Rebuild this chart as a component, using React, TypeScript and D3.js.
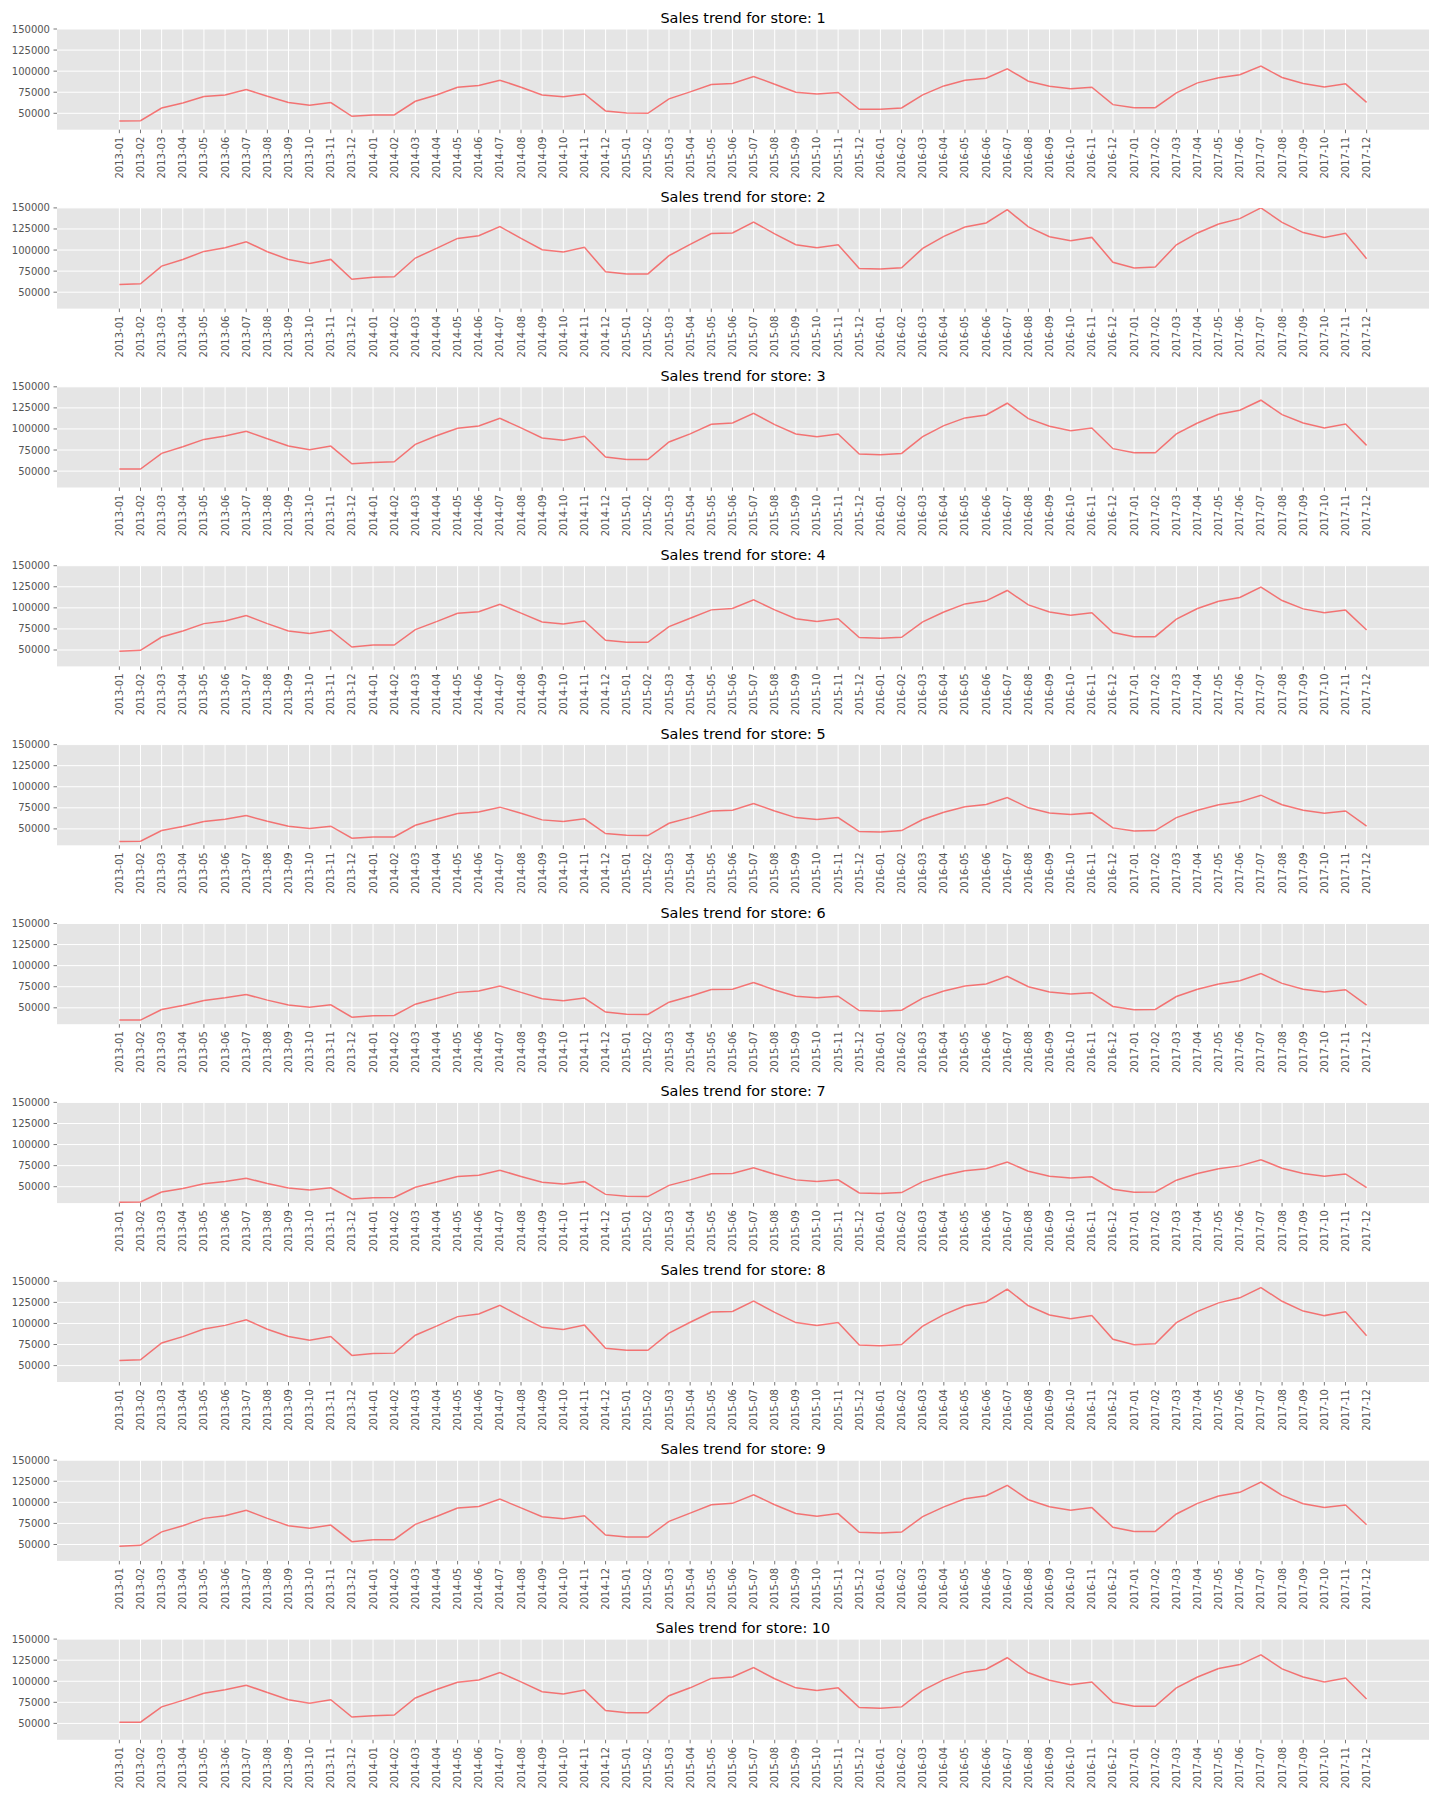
import React from "react";
import * as d3 from "d3";

const months = [
  "2013-01","2013-02","2013-03","2013-04","2013-05","2013-06","2013-07","2013-08","2013-09","2013-10","2013-11","2013-12",
  "2014-01","2014-02","2014-03","2014-04","2014-05","2014-06","2014-07","2014-08","2014-09","2014-10","2014-11","2014-12",
  "2015-01","2015-02","2015-03","2015-04","2015-05","2015-06","2015-07","2015-08","2015-09","2015-10","2015-11","2015-12",
  "2016-01","2016-02","2016-03","2016-04","2016-05","2016-06","2016-07","2016-08","2016-09","2016-10","2016-11","2016-12",
  "2017-01","2017-02","2017-03","2017-04","2017-05","2017-06","2017-07","2017-08","2017-09","2017-10","2017-11","2017-12",
];

const yTicks = [50000, 75000, 100000, 125000, 150000];
const storeIds = [1, 2, 3, 4, 5, 6, 7, 8, 9, 10];

const store1 = [40900,41300,56300,62250,69900,71800,78200,70300,62750,59600,62750,46400,48000,48000,64300,71800,80900,82900,89300,80900,71800,69500,73000,52800,50400,50000,67100,75400,84100,85300,93700,
  84500,75000,73000,74800,54700,54700,56300,71800,82500,89300,91700,102800,88100,82100,79000,80900,60300,56700,56700,74200,86100,92100,95700,105900,92500,85300,81300,84900,63000];
const store2 = [59100,59900,80900,88800,98400,102800,109900,98000,88900,84200,88900,65400,67800,68200,90500,102000,113800,117000,127800,113800,100400,97600,103200,74200,71700,71700,93300,106700,119500,120300,133300,
  119100,106300,102800,106300,78200,77400,79000,102000,116200,127400,132100,148000,127400,115800,111100,115000,85500,78600,79800,106300,120300,130900,137300,150000,132900,120700,115000,119900,89800];
const store3 = [52400,52400,71000,78900,87600,91600,97200,88400,79700,75400,79700,58700,60300,61100,81700,92000,100800,103600,112700,101200,89300,86600,91300,66600,63800,63800,84500,94100,105500,107100,118600,
  105100,94100,90900,94100,70300,69500,71000,90900,104000,113100,116600,130500,112300,103200,98000,101200,76600,71800,71800,94100,107100,117400,122200,134100,117000,107100,101200,105900,80500];
const store4 = [48400,49600,65400,72600,81300,84500,90900,81300,72600,69500,73400,53600,55900,55900,74200,83700,93600,95500,104300,93800,83300,80900,84500,61500,59100,59100,77800,87600,97600,99200,109500,
  97600,87000,83900,87000,64700,63900,65000,83300,95100,104700,108300,120600,103500,95100,91100,94200,70800,65800,65800,86600,99200,107900,112300,124600,108700,98800,94200,97300,73800];
const store5 = [35000,35400,48000,52800,58700,61500,65800,59100,53200,50400,53200,38900,40500,40500,54300,61500,68200,70100,75800,68600,60700,58700,61900,44500,42500,42100,56700,63400,71300,72100,80100,
  71300,63400,61100,63400,46800,46400,48000,61100,69800,76200,79000,87300,75000,69000,67000,69000,51200,47600,48000,63400,72100,78600,82100,90000,78600,72100,68600,71300,53200];
const store6 = [35400,35400,48000,52800,58700,61900,65800,59100,53200,50800,53600,38900,40500,40900,54300,61100,68300,69900,75800,68300,60700,58300,61500,44900,42500,42100,56700,63800,71800,72100,80100,
  71100,63800,61900,63800,46800,46000,47200,61500,69900,75800,78200,87300,75000,68700,66300,67900,51600,47600,48000,63400,72100,78200,82100,90500,79000,72100,68700,71500,53200];
const store7 = [31600,31800,43700,48000,53400,56300,60100,53800,48400,46200,48800,35400,36900,37200,49400,55600,62200,63600,69500,62200,55200,53100,56000,40900,38700,38300,51600,58100,65300,65600,72400,
  64700,58100,56300,58100,42600,41900,43000,56000,63600,69000,71200,79200,68300,62500,60300,61800,47000,43300,43700,57700,65600,71200,74700,82000,71900,65600,62500,65100,49000];
const store8 = [56100,56900,76900,84400,93500,97700,104400,93100,84500,80000,84500,62100,64400,64800,86000,96900,108100,111200,121400,108100,95400,92700,98000,70500,68100,68100,88600,101400,113500,114300,126600,
  113100,101000,97700,101000,74300,73500,75100,96900,110400,121000,125500,140600,121000,110000,105500,109300,81200,74700,75800,101000,114300,124400,130400,142500,126300,114700,109300,113900,85300];
const store9 = [48000,49000,65000,72300,81000,84200,90500,81000,72300,69200,73000,53400,55600,55700,73900,83300,93200,95100,103900,93400,83000,80600,84200,61300,58900,58900,77500,87200,97200,98800,109000,
  97200,86700,83600,86700,64500,63700,64800,83000,94700,104300,107900,120100,103100,94700,90700,93800,70500,65500,65500,86200,98800,107500,111900,124100,108300,98400,93800,96900,73500];
const store10 = [51400,51400,69600,77300,85800,89800,95300,86600,78100,73900,78100,57500,59100,59900,80100,90200,98800,101500,110400,99200,87500,84900,89500,65300,62500,62500,82800,92200,103400,105000,116200,
  103000,92200,89100,92200,68900,68100,69600,89100,101900,110800,114300,127900,110100,101100,96000,99200,75100,70400,70400,92200,105000,115100,119800,131400,114700,105000,99200,103800,78900];

const seriesList = [store1, store2, store3, store4, store5, store6, store7, store8, store9, store10];

const W = 1440;
const H = 1800;
const LEFT = 57;
const RIGHT = 1429;
const TOP0 = 29;
const PITCH = 178.9;
const AXH = 100.7;
const FONT = "DejaVu Sans, sans-serif";

export default function App() {
  const x = d3.scaleLinear().domain([-2.95, months.length - 1 + 2.95]).range([LEFT, RIGHT]);
  const y = d3.scaleLinear().domain([30550, 150000]).range([AXH, 0]);
  const line = d3
    .line<number>()
    .x((_, i) => x(i))
    .y((d) => y(d));

  return (
    <svg
      width={W}
      height={H}
      style={{ position: "absolute", left: 0, top: 0, background: "#ffffff" }}
      fontFamily={FONT}
    >
      <rect x={0} y={0} width={W} height={H} fill="#ffffff" />
      {seriesList.map((s, si) => {
        const T = TOP0 + PITCH * si;
        const cid = `clip-${si}`;
        return (
          <g key={si} transform={`translate(0,${T})`}>
            <defs>
              <clipPath id={cid}>
                <rect x={LEFT} y={0} width={RIGHT - LEFT} height={AXH} />
              </clipPath>
            </defs>
            <rect x={LEFT} y={0} width={RIGHT - LEFT} height={AXH} fill="#E5E5E5" />
            {months.map((m, i) => (
              <line key={`gx${i}`} x1={x(i)} x2={x(i)} y1={0} y2={AXH} stroke="#ffffff" strokeWidth={1} />
            ))}
            {yTicks.map((t) => (
              <line key={`gy${t}`} x1={LEFT} x2={RIGHT} y1={y(t)} y2={y(t)} stroke="#ffffff" strokeWidth={1} />
            ))}
            <path
              d={line(s) || ""}
              fill="none"
              stroke="red"
              strokeOpacity={0.5}
              strokeWidth={1.5}
              clipPath={`url(#${cid})`}
            />
            {yTicks.map((t) => (
              <g key={`yt${t}`}>
                <line x1={LEFT - 3.5} x2={LEFT} y1={y(t)} y2={y(t)} stroke="#555555" strokeWidth={0.8} />
                <text x={LEFT - 7} y={y(t)} dy="0.35em" textAnchor="end" fontSize={10} fill="#555555">
                  {t}
                </text>
              </g>
            ))}
            {months.map((m, i) => (
              <g key={`xt${i}`}>
                <line x1={x(i)} x2={x(i)} y1={AXH} y2={AXH + 3.5} stroke="#555555" strokeWidth={0.8} />
                <text
                  transform={`translate(${x(i)},${AXH + 7}) rotate(-90)`}
                  dy="0.35em"
                  textAnchor="end"
                  fontSize={10}
                  fill="#555555"
                >
                  {m}
                </text>
              </g>
            ))}
            <text x={(LEFT + RIGHT) / 2} y={-6} textAnchor="middle" fontSize={14.4} fill="#000000">
              {`Sales trend for store: ${storeIds[si]}`}
            </text>
          </g>
        );
      })}
    </svg>
  );
}
